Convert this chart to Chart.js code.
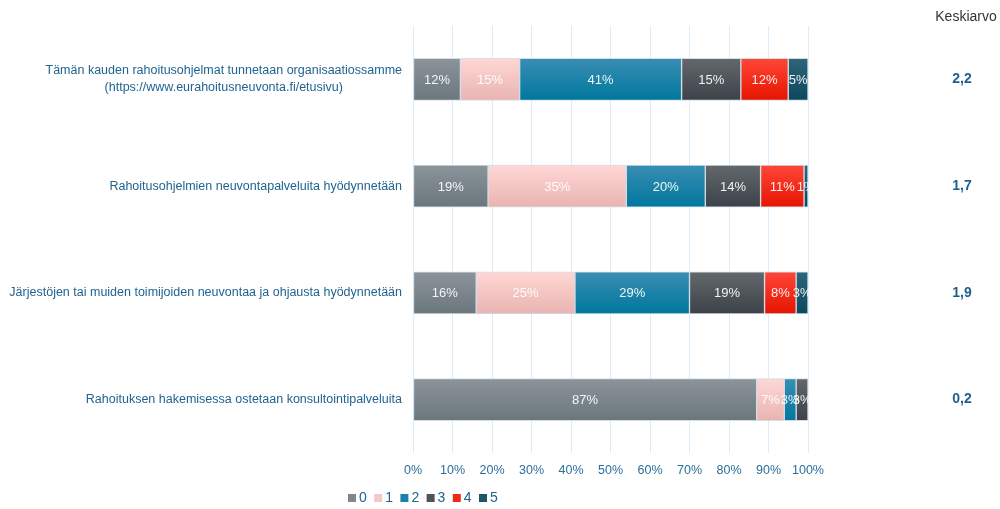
<!DOCTYPE html>
<html>
<head>
<meta charset="utf-8">
<script src="https://cdn.jsdelivr.net/npm/chart.js@4"></script>
<style>
html,body{margin:0;padding:0;background:#fff;}
#wrap{width:1000px;height:509px;position:relative;}
</style>
</head>
<body>
<div id="wrap"><canvas id="c" width="1000" height="509"></canvas></div>
<script>
// ---- data ----
const categories = [
  ["Tämän kauden rahoitusohjelmat tunnetaan organisaatiossamme", "(https://www.eurahoitusneuvonta.fi/etusivu)"],
  "Rahoitusohjelmien neuvontapalveluita hyödynnetään",
  "Järjestöjen tai muiden toimijoiden neuvontaa ja ohjausta hyödynnetään",
  "Rahoituksen hakemisessa ostetaan konsultointipalveluita"
];
const seriesNames = ["0", "1", "2", "3", "4", "5"];
const s0 = [12, 19, 16, 87];
const s1 = [15, 35, 25, 7];
const s2 = [41, 20, 29, 3];
const s3 = [15, 14, 19, 3];
const s4 = [12, 11, 8, 0];
const s5 = [5, 1, 3, 0];
const means = ["2,2", "1,7", "1,9", "0,2"];
const meanTitle = "Keskiarvo";
const xTicks = [0, 10, 20, 30, 40, 50, 60, 70, 80, 90, 100];

// ---- styles ----
const FONT = "'Liberation Sans', Arial, sans-serif";
const colorsTop = ["#8b949b", "#ffd7d4", "#3a8db2", "#63686d", "#ff4638", "#2d6579"];
const colorsBot = ["#6c767d", "#e8b4b1", "#00779e", "#3d4248", "#e61400", "#0c485c"];
const legendColors = ["#7d878e", "#f6c8c5", "#1a82a8", "#4f5459", "#f0281a", "#1c5669"];
const allSeries = [s0, s1, s2, s3, s4, s5];

function gradFor(i) {
  return function (ctx) {
    const chart = ctx.chart;
    const ys = chart.scales && chart.scales.y;
    if (!ys || !chart.chartArea || ctx.dataIndex === undefined) return legendColors[i];
    const cy = ys.getPixelForValue(ctx.dataIndex);
    if (!isFinite(cy)) return legendColors[i];
    const g = chart.ctx.createLinearGradient(0, cy - 21, 0, cy + 21);
    g.addColorStop(0, colorsTop[i]);
    g.addColorStop(1, colorsBot[i]);
    return g;
  };
}

const datasets = allSeries.map((d, i) => ({
  label: seriesNames[i],
  data: d,
  backgroundColor: gradFor(i),
  borderColor: "rgba(205,218,230,0.9)",
  borderWidth: 1,
  borderSkipped: false,
  barThickness: 42
}));

const labelPlugin = {
  id: "labelsPlugin",
  afterDatasetsDraw(chart) {
    const c = chart.ctx;
    c.save();
    c.font = "13px " + FONT;
    c.fillStyle = "rgba(255,255,255,0.92)";
    c.textAlign = "center";
    c.textBaseline = "middle";
    chart.data.datasets.forEach((ds, di) => {
      const meta = chart.getDatasetMeta(di);
      meta.data.forEach((bar, idx) => {
        const v = ds.data[idx];
        if (!v) return;
        const p = bar.getProps(["x", "y", "base"], true);
        c.fillText(v + "%", (p.x + p.base) / 2, p.y + 1);
      });
    });
    c.restore();
  },
  afterDraw(chart) {
    const c = chart.ctx;
    const ys = chart.scales.y;
    const left = chart.chartArea.left;
    c.save();
    // category labels
    c.font = "12.5px " + FONT;
    c.fillStyle = "#1f6391";
    c.textBaseline = "middle";
    categories.forEach((lab, i) => {
      const cy = ys.getPixelForValue(i);
      const lines = Array.isArray(lab) ? lab : [lab];
      const widths = lines.map(l => c.measureText(l).width);
      const w = Math.max(...widths);
      const lh = 17;
      const startY = cy - (lines.length - 1) * lh / 2;
      lines.forEach((l, k) => {
        c.textAlign = "center";
        c.fillText(l, left - 11 - w / 2, startY + k * lh);
      });
    });
    // mean column
    c.textAlign = "center";
    c.font = "14px " + FONT;
    c.fillStyle = "#333333";
    c.fillText(meanTitle, 966, 17);
    c.font = "bold 14px " + FONT;
    c.fillStyle = "#1f5f8f";
    means.forEach((m, i) => {
      c.fillText(m, 962, ys.getPixelForValue(i));
    });
    // legend
    c.font = "14px " + FONT;
    c.textAlign = "left";
    let x = 348;
    seriesNames.forEach((n, i) => {
      c.fillStyle = legendColors[i];
      c.fillRect(x, 494, 8, 8);
      c.fillStyle = "#1f6391";
      c.fillText(n, x + 11, 498);
      x += 26.2;
    });
    c.restore();
  }
};

new Chart(document.getElementById("c"), {
  type: "bar",
  data: { labels: categories, datasets: datasets },
  plugins: [labelPlugin],
  options: {
    indexAxis: "y",
    responsive: false,
    animation: false,
    layout: { padding: { left: 405, right: 192, top: 26, bottom: 21 } },
    plugins: { legend: { display: false }, tooltip: { enabled: false } },
    scales: {
      x: {
        stacked: true,
        min: 0, max: 100,
        afterBuildTicks(axis) { axis.ticks = xTicks.map(v => ({ value: v })); },
        ticks: {
          callback: v => v + "%",
          color: "#2c6e9b",
          font: { family: FONT, size: 12.5 },
          padding: 10,
          maxRotation: 0
        },
        grid: { color: "#dcecfa", lineWidth: 1, drawTicks: false },
        border: { display: false }
      },
      y: {
        stacked: true,
        ticks: { display: false },
        grid: { display: false },
        border: { display: false }
      }
    }
  }
});
</script>
</body>
</html>
